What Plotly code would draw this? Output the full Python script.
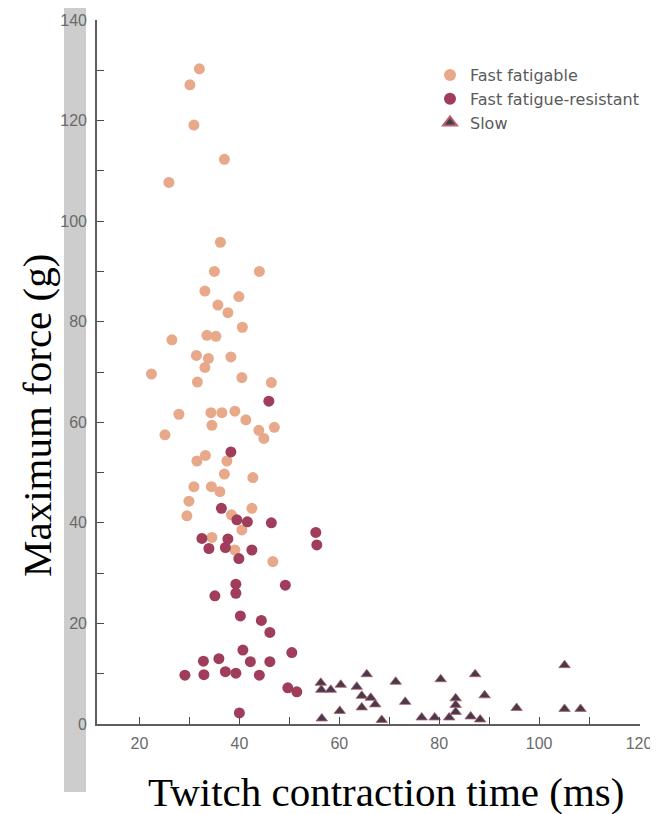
import plotly.graph_objects as go

# Fast fatigable motor units (twitch contraction time ms, max force g)
ff_time = [32.0, 30.1, 30.9, 37.0, 25.9, 36.2, 35.0, 44.0, 33.1, 39.9, 35.7, 37.7, 40.6, 26.5,
           33.5, 35.3, 31.4, 33.8, 38.3, 33.1, 22.4, 31.6, 40.5, 46.4, 27.9, 34.3, 36.5, 39.1,
           41.3, 34.5, 43.9, 47.0, 44.9, 25.1, 33.2, 31.5, 37.5, 37.0, 42.7, 30.9, 34.4, 36.1,
           29.9, 29.5, 42.5, 38.4, 40.5, 34.5, 39.1, 46.7]
ff_force = [130.3, 127.1, 119.1, 112.3, 107.7, 95.8, 90.0, 90.0, 86.1, 85.0, 83.3, 81.8, 78.9, 76.4,
            77.3, 77.1, 73.3, 72.7, 73.0, 70.9, 69.6, 68.0, 68.9, 67.9, 61.6, 61.9, 61.9, 62.2,
            60.5, 59.4, 58.4, 59.0, 56.8, 57.5, 53.4, 52.3, 52.3, 49.7, 49.0, 47.2, 47.2, 46.2,
            44.3, 41.4, 42.9, 41.6, 38.6, 37.1, 34.6, 32.3]

# Fast fatigue-resistant
fr_time = [45.9, 38.3, 36.4, 39.5, 41.6, 46.4, 55.3, 55.5, 32.5, 37.7, 33.9, 37.2, 42.5, 39.9,
           39.3, 39.3, 49.2, 35.1, 40.2, 44.4, 46.1, 40.7, 50.5, 32.8, 35.9, 42.2, 46.1, 29.1,
           32.9, 37.2, 39.3, 44.0, 49.7, 51.5, 40.0]
fr_force = [64.2, 54.1, 42.9, 40.6, 40.2, 40.0, 38.1, 35.6, 36.9, 36.8, 34.9, 35.1, 34.6, 32.9,
            27.8, 26.0, 27.6, 25.5, 21.5, 20.6, 18.2, 14.7, 14.2, 12.5, 13.0, 12.4, 12.4, 9.7,
            9.8, 10.4, 10.1, 9.7, 7.2, 6.4, 2.2]

# Slow
s_time = [56.3, 56.4, 58.3, 60.3, 65.5, 63.5, 64.5, 66.3, 67.2, 64.5, 60.1, 56.5, 68.5, 71.3,
          73.2, 76.5, 79.1, 80.3, 82.0, 83.3, 83.3, 83.3, 86.3, 88.2, 87.2, 89.1, 95.5, 105.1,
          105.1, 108.3]
s_force = [8.2, 6.8, 6.8, 7.8, 9.9, 7.4, 5.6, 5.2, 3.9, 3.3, 2.6, 1.1, 0.8, 8.4,
           4.4, 1.3, 1.3, 8.9, 1.3, 5.1, 3.8, 2.4, 1.5, 0.9, 9.9, 5.7, 3.2, 11.7,
           3.0, 3.0]

x_tickvals = [20, 30, 40, 50, 60, 70, 80, 90, 100, 110, 120]
x_ticktext = ["20", "", "40", "", "60", "", "80", "", "100", "", "120"]
y_tickvals = [0, 10, 20, 30, 40, 50, 60, 70, 80, 90, 100, 110, 120, 130, 140]
y_ticktext = ["0", "", "20", "", "40", "", "60", "", "80", "", "100", "", "120", "", "140"]

# page has an 8px body margin, so the figure is 8px smaller on each side
OFF = 8
W, H = 658 - OFF, 814 - OFF
L, T = 97 - OFF, 20 - OFF
R = W - (640 - OFF)
B = H - (724 - OFF)
pw, ph = W - L - R, H - T - B


def px_x(p):  # p: reference-page pixel
    return (p - OFF - L) / pw


def px_y(p):
    return (H - B - (p - OFF)) / ph


fig = go.Figure()
fig.add_trace(go.Scatter(x=ff_time, y=ff_force, mode="markers", name="Fast fatigable",
                         marker=dict(symbol="circle", size=11, color="#e8a98b"),
                         cliponaxis=False))
fig.add_trace(go.Scatter(x=fr_time, y=fr_force, mode="markers", name="Fast fatigue-resistant",
                         marker=dict(symbol="circle", size=11, color="#9f3d5b"),
                         cliponaxis=False))
fig.add_trace(go.Scatter(x=s_time, y=s_force, mode="markers", name="Slow",
                         marker=dict(symbol="triangle-up", size=10, color="#453b4d",
                                     line=dict(color="#b8606e", width=0.8)),
                         cliponaxis=False))

axis_common = dict(showgrid=False, zeroline=False, showline=True, linecolor="#5e5e5e",
                   linewidth=1.6, ticks="inside", ticklen=7, tickwidth=1.4, tickcolor="#4a4a4a",
                   tickfont=dict(family="Liberation Sans, Arial, sans-serif", size=16, color="#6a6a6a"))

fig.update_xaxes(range=[11.5, 120.2], tickmode="array", tickvals=x_tickvals, ticktext=x_ticktext,
                 ticklabelstandoff=4, **axis_common)
fig.update_yaxes(range=[0, 140], tickmode="array", tickvals=y_tickvals, ticktext=y_ticktext,
                 ticklabelstandoff=5, **axis_common)

fig.update_layout(
    width=W, height=H,
    margin=dict(l=L, r=R, t=T, b=B, autoexpand=False),
    plot_bgcolor="white", paper_bgcolor="white",
    showlegend=True,
    legend=dict(x=px_x(430), y=px_y(58), xanchor="left", yanchor="top",
                font=dict(family="DejaVu Sans, Arial, sans-serif", size=16, color="#5a5a5a"),
                itemsizing="constant", bgcolor="rgba(0,0,0,0)", tracegroupgap=0),
    shapes=[dict(type="rect", xref="paper", yref="paper",
                 x0=px_x(64), x1=px_x(86), y0=px_y(792), y1=px_y(6),
                 fillcolor="#cdcdcd", line=dict(width=0), layer="below")],
    annotations=[
        dict(text="Twitch contraction time (ms)", xref="paper", yref="paper",
             x=px_x(386), y=px_y(792), xanchor="center", yanchor="middle", showarrow=False,
             font=dict(family="Liberation Serif, Times New Roman, serif", size=41, color="black")),
        dict(text="Maximum force (g)", xref="paper", yref="paper",
             x=px_x(37), y=px_y(416), xanchor="center", yanchor="middle", showarrow=False,
             textangle=-90,
             font=dict(family="Liberation Serif, Times New Roman, serif", size=41, color="black")),
    ],
)

fig.write_html("out.html")
